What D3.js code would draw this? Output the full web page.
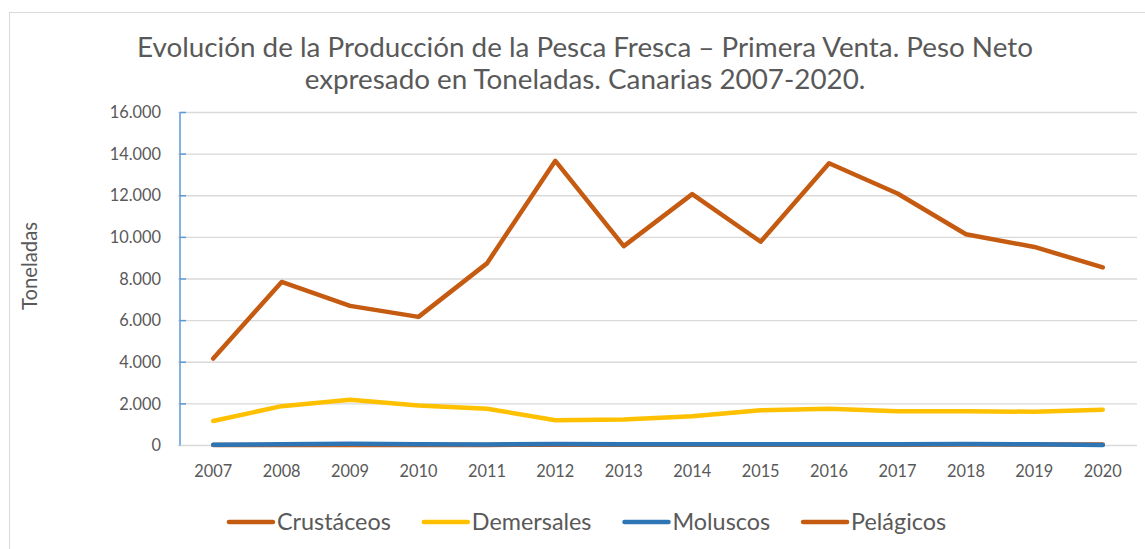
<!DOCTYPE html>
<html>
<head>
<meta charset="utf-8">
<script src="https://cdn.jsdelivr.net/npm/d3@7"></script>
<style>
  body { margin: 0; background: #fff; }
  text { font-family: Lato, "Open Sans", sans-serif; fill: #595959; }
</style>
</head>
<body>
<div id="chart"></div>
<script>
// data
const years = ["2007", "2008", "2009", "2010", "2011", "2012", "2013", "2014", "2015", "2016", "2017", "2018", "2019", "2020"];
const crustaceos = [20, 25, 30, 30, 30, 35, 35, 35, 40, 40, 40, 45, 45, 50];
const demersales = [1180, 1890, 2200, 1920, 1770, 1210, 1250, 1400, 1690, 1760, 1650, 1650, 1620, 1720];
const moluscos = [40, 55, 80, 55, 50, 75, 60, 60, 65, 60, 55, 70, 55, 25];
const pelagicos = [4180, 7860, 6710, 6180, 8750, 13680, 9580, 12080, 9790, 13560, 12110, 10150, 9540, 8560];
const yTicks = [0, 2000, 4000, 6000, 8000, 10000, 12000, 14000, 16000];

const seriesNames = ["Crustáceos", "Demersales", "Moluscos", "Pelágicos"];
const seriesValues = [crustaceos, demersales, moluscos, pelagicos];
const seriesColors = ["#C55A11", "#FFC000", "#2E75B6", "#C55A11"];

const W = 1145, H = 549;
const margin = { top: 112.5, right: 8, bottom: 103.5, left: 179 };
const width = W - margin.left - margin.right;
const height = H - margin.top - margin.bottom;

const svg = d3.select("#chart").append("svg")
    .attr("width", W)
    .attr("height", H);

// chart border (only left/top are inside the picture)
svg.append("rect")
    .attr("x", 9.5).attr("y", 12.5)
    .attr("width", 1150).attr("height", 560)
    .attr("fill", "none")
    .attr("stroke", "#D9D9D9");

// shrink/grow a text node to a given width
function fitText(node, target) {
    const len = node.getComputedTextLength();
    const fs = parseFloat(d3.select(node).attr("font-size"));
    d3.select(node).attr("font-size", fs * target / len);
}

// title
const title = svg.append("text")
    .attr("x", 585)
    .attr("text-anchor", "middle")
    .attr("font-size", 26);
title.append("tspan").attr("x", 585).attr("y", 57)
    .text("Evolución de la Producción de la Pesca Fresca – Primera Venta. Peso Neto");
fitText(title.node(), 896);
title.append("tspan").attr("x", 585).attr("y", 88.5)
    .text("expresado en Toneladas. Canarias 2007-2020.");

const g = svg.append("g")
    .attr("transform", `translate(${margin.left},${margin.top})`);

const x = d3.scaleBand()
    .domain(years)
    .range([0, width]);

const y = d3.scaleLinear()
    .domain([0, 16000])
    .range([height, 0]);

const fmt = d => d3.format(",")(d).replace(/,/g, ".");

// gridlines
g.append("g")
    .selectAll("line")
    .data(yTicks)
    .enter()
    .append("line")
    .attr("x1", -1)
    .attr("x2", width)
    .attr("y1", d => y(d))
    .attr("y2", d => y(d))
    .attr("stroke", "#D9D9D9")
    .attr("stroke-width", 1.3);

// y axis: blue line with short inner ticks
g.append("line")
    .attr("x1", 1).attr("x2", 1)
    .attr("y1", y(16000)).attr("y2", y(0))
    .attr("stroke", "#5B9BD5")
    .attr("stroke-width", 1.5);

g.append("g")
    .selectAll("line")
    .data(yTicks.filter(d => d > 0))
    .enter()
    .append("line")
    .attr("x1", 1).attr("x2", 7)
    .attr("y1", d => y(d)).attr("y2", d => y(d))
    .attr("stroke", "#5B9BD5")
    .attr("stroke-width", 1.5);

// y tick labels
const yLabels = g.append("g")
    .selectAll("text")
    .data(yTicks)
    .enter()
    .append("text")
    .attr("x", -18)
    .attr("y", d => y(d))
    .attr("dy", "0.35em")
    .attr("text-anchor", "end")
    .attr("font-size", 17)
    .text(d => fmt(d));

// x tick labels
const xLabels = g.append("g")
    .selectAll("text")
    .data(years)
    .enter()
    .append("text")
    .attr("x", d => x(d) + x.bandwidth() / 2)
    .attr("y", height + 31)
    .attr("text-anchor", "middle")
    .attr("font-size", 17)
    .text(d => d);
fitText(xLabels.node(), 38);
xLabels.attr("font-size", xLabels.attr("font-size"));
yLabels.attr("font-size", xLabels.attr("font-size"));

// y axis title
const yTitle = svg.append("text")
    .attr("transform", "translate(37,266) rotate(-90)")
    .attr("text-anchor", "middle")
    .attr("font-size", 16)
    .text("Toneladas");
fitText(yTitle.node(), 88);

// lines
const line = d3.line()
    .x((d, i) => x(years[i]) + x.bandwidth() / 2)
    .y(d => y(d));

seriesValues.forEach((vals, k) => {
    g.append("path")
        .datum(vals)
        .attr("fill", "none")
        .attr("stroke", seriesColors[k])
        .attr("stroke-width", 4.5)
        .attr("stroke-linejoin", "round")
        .attr("stroke-linecap", "round")
        .attr("d", line);
});

// legend
const legend = svg.append("g");
let lx = 0;
const gap = 33;
const items = [];
seriesNames.forEach((name, k) => {
    const item = legend.append("g");
    item.append("line")
        .attr("x1", 0).attr("x2", 44)
        .attr("y1", 0).attr("y2", 0)
        .attr("stroke", seriesColors[k])
        .attr("stroke-width", 4.5)
        .attr("stroke-linecap", "round");
    const txt = item.append("text")
        .attr("x", 48)
        .attr("dy", "0.35em")
        .attr("font-size", 22)
        .text(name);
    items.push({ item, txt });
});
fitText(items[0].txt.node(), 114);
const lfs = items[0].txt.attr("font-size");
items.forEach(({ item, txt }) => {
    txt.attr("font-size", lfs);
    item.attr("transform", `translate(${lx},0)`);
    lx += 48 + txt.node().getComputedTextLength() + gap;
});
const legendW = lx - gap;
legend.attr("transform", `translate(${587.5 - legendW / 2},522)`);
</script>
</body>
</html>
